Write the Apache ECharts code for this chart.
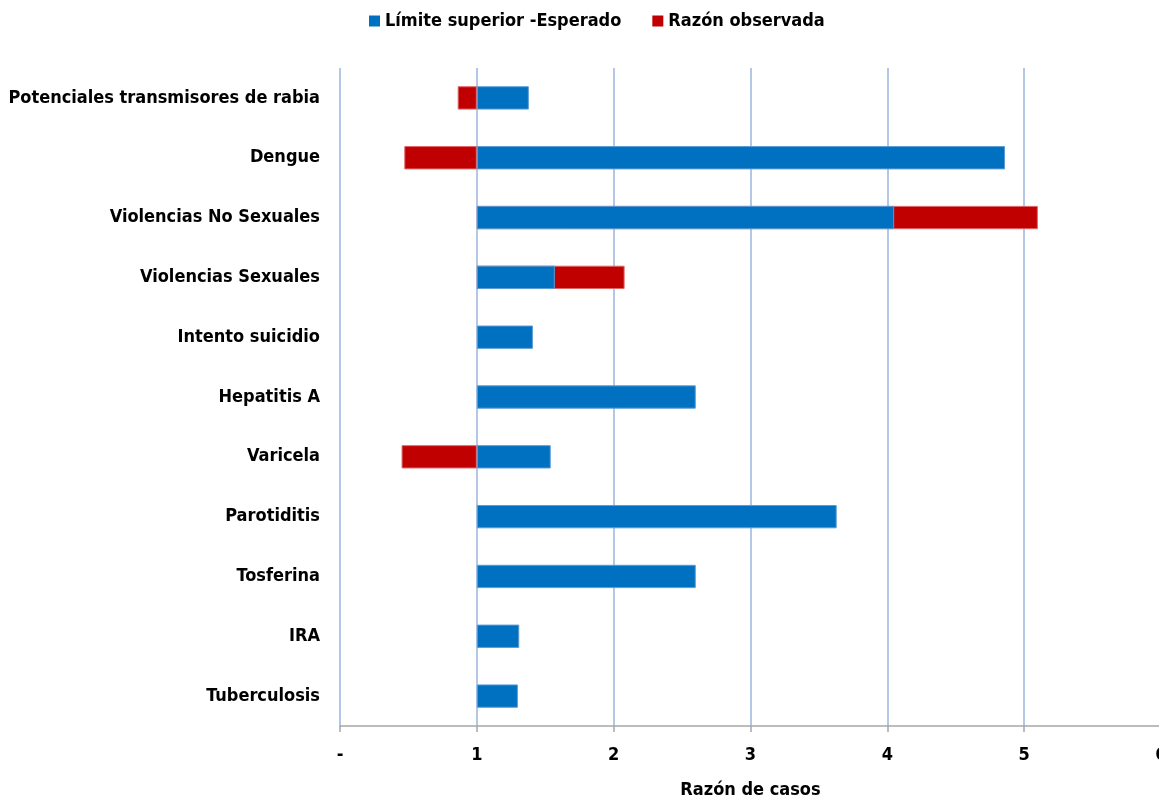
<!DOCTYPE html>
<html>
<head>
<meta charset="utf-8">
<script src="https://cdn.jsdelivr.net/npm/echarts@6/dist/echarts.min.js"></script>
<style>
  html, body { margin: 0; padding: 0; background: #ffffff; }
  #chart { width: 1159px; height: 798px; }
</style>
</head>
<body>
<div id="chart"></div>
<script>
// Eventos de interés: razón observada frente al límite superior esperado
const categories = [
  'Potenciales transmisores de rabia',
  'Dengue',
  'Violencias No Sexuales',
  'Violencias Sexuales',
  'Intento suicidio',
  'Hepatitis A',
  'Varicela',
  'Parotiditis',
  'Tosferina',
  'IRA',
  'Tuberculosis'
];
// Límite superior de la razón esperada
const limiteSuperior = [1.38, 4.86, 4.05, 1.57, 1.41, 2.60, 1.54, 3.63, 2.60, 1.31, 1.30];
// Razón observada (null cuando queda dentro del límite y no se muestra)
const razonObservada = [0.86, 0.47, 5.10, 2.08, null, null, 0.45, null, null, null, null];
const xTicks = ['-', '1', '2', '3', '4', '5', '6'];

// Las barras parten de la razón 1 (valor de referencia)
const BASE = 1;

const FONT = "'DejaVu Sans Condensed', 'Liberation Sans', Arial, sans-serif";
const FS = 18;
const BLUE = '#0070C0';
const RED = '#C00000';

// Barras apiladas: un tramo transparente desplaza cada barra hasta su inicio
const obsOffset = razonObservada.map(v => v == null ? null : Math.min(v, BASE));
const obsLength = razonObservada.map(v => v == null ? null : Math.abs(v - BASE));
const limOffset = limiteSuperior.map(v => Math.min(v, BASE));
const limLength = limiteSuperior.map(v => Math.abs(v - BASE));

const chart = echarts.init(document.getElementById('chart'), null, { renderer: 'canvas' });

const hidden = { color: 'transparent', borderWidth: 0 };

chart.setOption({
  animation: false,
  backgroundColor: '#ffffff',
  textStyle: { fontFamily: FONT },
  legend: {
    data: ['Límite superior -Esperado', 'Razón observada'],
    top: 7,
    left: 364,
    itemWidth: 11,
    itemHeight: 11,
    itemGap: 31,
    icon: 'rect',
    itemStyle: { borderWidth: 0 },
    textStyle: { fontFamily: FONT, fontWeight: 'bold', fontSize: FS, color: '#000000', padding: [0, 0, 0, 0] }
  },
  grid: { left: 340, right: -2, top: 68, bottom: 72, outerBoundsMode: 'none' },
  xAxis: {
    type: 'value',
    min: 0,
    max: 6,
    interval: 1,
    name: 'Razón de casos',
    nameLocation: 'middle',
    nameGap: 55,
    nameTextStyle: { fontFamily: FONT, fontWeight: 'bold', fontSize: FS, color: '#000000' },
    axisLine: { show: true, lineStyle: { color: '#a6a6a6', width: 1.5 } },
    axisTick: { show: true, length: 6, lineStyle: { color: '#a6a6a6', width: 1.5 } },
    axisLabel: {
      margin: 20,
      fontFamily: FONT,
      fontWeight: 'bold',
      fontSize: FS,
      color: '#000000',
      formatter: v => xTicks[Math.round(v)]
    },
    splitLine: { show: true, lineStyle: { color: '#b4c7e7', width: 2 } }
  },
  yAxis: {
    type: 'category',
    data: categories,
    inverse: true,
    axisLine: { show: false },
    axisTick: { show: false },
    axisLabel: {
      margin: 20,
      fontFamily: FONT,
      fontWeight: 'bold',
      fontSize: FS,
      color: '#000000'
    }
  },
  series: [
    {
      name: 'obsOffset',
      type: 'bar',
      stack: 'obs',
      barWidth: '39%',
      itemStyle: hidden,
      emphasis: { disabled: true },
      data: obsOffset
    },
    {
      name: 'Razón observada',
      type: 'bar',
      stack: 'obs',
      barWidth: '39%',
      itemStyle: { color: RED, borderColor: '#e06666', borderWidth: 1 },
      data: obsLength
    },
    {
      name: 'limOffset',
      type: 'bar',
      stack: 'lim',
      barWidth: '39%',
      barGap: '-100%',
      itemStyle: hidden,
      emphasis: { disabled: true },
      data: limOffset
    },
    {
      name: 'Límite superior -Esperado',
      type: 'bar',
      stack: 'lim',
      barWidth: '39%',
      barGap: '-100%',
      itemStyle: { color: BLUE, borderColor: '#5b9bd5', borderWidth: 1 },
      data: limLength
    }
  ]
});
</script>
</body>
</html>
